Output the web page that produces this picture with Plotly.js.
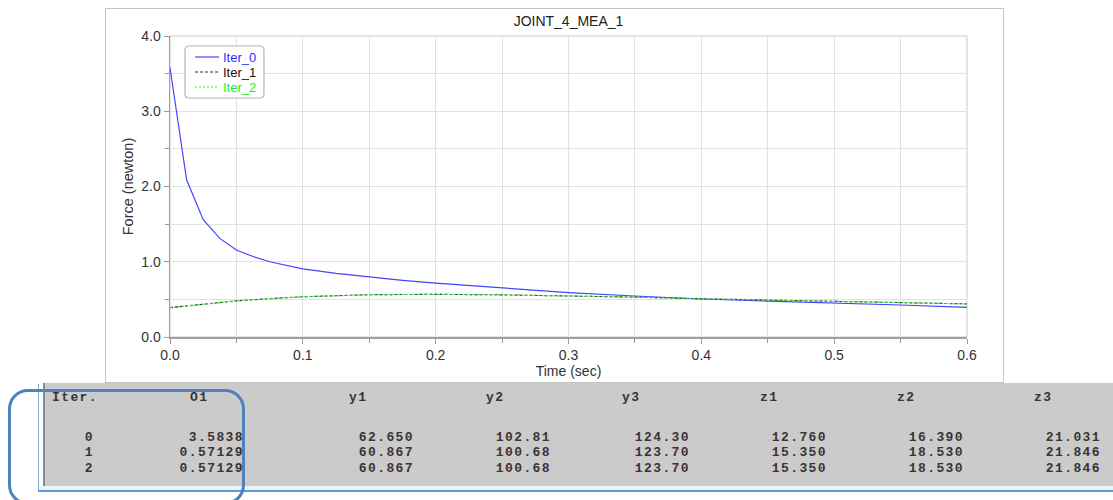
<!DOCTYPE html>
<html>
<head>
<meta charset="utf-8">
<script src="https://cdn.plot.ly/plotly-3.0.1.min.js"></script>
<style>
  html, body { margin: 0; padding: 0; background: #ffffff; width: 1113px; height: 500px; overflow: hidden; }
  #chart { position: absolute; left: 105px; top: 8px; width: 899px; height: 375px; box-sizing: border-box; border: 1px solid #c4c4c4; }
  #panel { position: absolute; left: 43px; top: 383px; width: 1070px; height: 103px; background: #cbcbcb; border-left: 2px solid #8a8a8a; box-sizing: border-box; }
  #panelEdge { position: absolute; left: 38px; top: 384px; width: 1075px; height: 108px; border-left: 1px solid #7fb0e0; border-bottom: 2px solid #5b9bd5; box-sizing: border-box; }
  #panelStrip { position: absolute; left: 39px; top: 486px; width: 1074px; height: 4px; background: #eef3fa; }
  .cell { position: absolute; font-family: "Liberation Mono", "DejaVu Sans Mono", monospace; font-weight: bold; font-size: 13px; letter-spacing: 1.4px; color: #3a3434; white-space: pre; line-height: 15px; }
  #hilite { position: absolute; left: 8px; top: 389px; width: 237px; height: 116px; border: 3px solid #4f81bd; border-radius: 20px; box-sizing: border-box; }
</style>
</head>
<body>
<div id="chart"></div>
<div id="panelEdge"></div>
<div id="panel"></div>
<div id="panelStrip"></div>
<div id="table"></div>
<div id="hilite"></div>
<script>
// ---- chart data ----
var time0 = [0, 0.0125, 0.025, 0.0375, 0.05, 0.0625, 0.075, 0.0875, 0.1, 0.125, 0.15, 0.175, 0.2, 0.25, 0.3, 0.35, 0.4, 0.45, 0.5, 0.55, 0.6];
var iter0 = [3.58, 2.09, 1.56, 1.31, 1.155, 1.07, 1.0, 0.95, 0.905, 0.845, 0.795, 0.752, 0.715, 0.648, 0.59, 0.545, 0.505, 0.478, 0.455, 0.425, 0.395];
var time12 = [0, 0.025, 0.05, 0.075, 0.1, 0.15, 0.2, 0.25, 0.3, 0.35, 0.4, 0.45, 0.5, 0.55, 0.6];
var iter1 = [0.39, 0.44, 0.48, 0.51, 0.535, 0.562, 0.567, 0.56, 0.548, 0.53, 0.508, 0.49, 0.474, 0.457, 0.44];
var iter2 = [0.39, 0.44, 0.48, 0.51, 0.535, 0.562, 0.567, 0.56, 0.548, 0.53, 0.508, 0.49, 0.474, 0.457, 0.44];
var seriesNames = ["Iter_0", "Iter_1", "Iter_2"];
var chartTitle = "JOINT_4_MEA_1";
var xTitle = "Time (sec)";
var yTitle = "Force (newton)";

// ---- table data ----
var tableHeaders = ["Iter.", "O1", "y1", "y2", "y3", "z1", "z2", "z3"];
var iterIds = ["0", "1", "2"];
var colO1 = ["3.5838", "0.57129", "0.57129"];
var colY1 = ["62.650", "60.867", "60.867"];
var colY2 = ["102.81", "100.68", "100.68"];
var colY3 = ["124.30", "123.70", "123.70"];
var colZ1 = ["12.760", "15.350", "15.350"];
var colZ2 = ["16.390", "18.530", "18.530"];
var colZ3 = ["21.031", "21.846", "21.846"];

var lineColors = ["#4444ff", "#333333", "#33ee33"];
var textColors = ["#3030ff", "#111111", "#22ee22"];
var dashes = ["solid", "3px,2px", "2px,2px"];
var widths = [1.2, 1.1, 1.2];
var xs = [time0, time12, time12];
var ys = [iter0, iter1, iter2];
var traces = seriesNames.map(function (n, i) {
  return { x: xs[i], y: ys[i], type: "scatter", mode: "lines", name: n, showlegend: false,
           line: { color: lineColors[i], width: widths[i], dash: dashes[i] } };
});

// plot area in page pixels: x 170..967, y 36..337
function px(x) { return (x - 170) / 797; }
function py(y) { return (337 - y) / 301; }

// custom compact legend (box, samples, labels)
var shapes = [
  { type: "rect", xref: "paper", yref: "paper", x0: 0, x1: 1, y0: 0, y1: 1, line: { color: "#c8c8c8", width: 1 }, layer: "below" }
];
(function () {
  var L = 185, R = 264, T = 46, B = 98, r = 4;
  var path = "M " + px(L + r) + " " + py(T) +
    " L " + px(R - r) + " " + py(T) + " Q " + px(R) + " " + py(T) + " " + px(R) + " " + py(T + r) +
    " L " + px(R) + " " + py(B - r) + " Q " + px(R) + " " + py(B) + " " + px(R - r) + " " + py(B) +
    " L " + px(L + r) + " " + py(B) + " Q " + px(L) + " " + py(B) + " " + px(L) + " " + py(B - r) +
    " L " + px(L) + " " + py(T + r) + " Q " + px(L) + " " + py(T) + " " + px(L + r) + " " + py(T) + " Z";
  shapes.push({ type: "path", xref: "paper", yref: "paper", path: path, fillcolor: "#ffffff", line: { color: "#b4b4b4", width: 1.2 }, layer: "above" });
})();
var annotations = [];
var rowY = [57, 72, 87];
seriesNames.forEach(function (n, i) {
  shapes.push({ type: "line", xref: "paper", yref: "paper", x0: px(195), x1: px(219), y0: py(rowY[i]), y1: py(rowY[i]),
                line: { color: lineColors[i], width: widths[i], dash: dashes[i] }, layer: "above" });
  annotations.push({ xref: "paper", yref: "paper", x: px(221), y: py(rowY[i]), xanchor: "left", yanchor: "middle",
                     text: n, showarrow: false, font: { family: "Liberation Sans, Arial, sans-serif", size: 13, color: textColors[i] } });
});

var axisFont = { family: "Liberation Sans, Arial, sans-serif", size: 14, color: "#333333" };
var layout = {
  width: 897, height: 373,
  margin: { l: 64, r: 36, t: 27, b: 45 },
  paper_bgcolor: "#ffffff", plot_bgcolor: "#ffffff",
  showlegend: false,
  title: { text: chartTitle, font: { family: "Liberation Sans, Arial, sans-serif", size: 14, color: "#222222" }, x: 0.5, xref: "paper", xanchor: "center", y: 1 - 12 / 373, yref: "container", yanchor: "middle" },
  xaxis: {
    range: [0, 0.6], dtick: 0.1, tick0: 0, tickformat: ".1f",
    showgrid: true, gridcolor: "#e2e2e2", gridwidth: 1,
    minor: { dtick: 0.05, showgrid: true, gridcolor: "#e2e2e2", ticks: "outside", ticklen: 4, tickcolor: "#999999" },
    ticks: "outside", ticklen: 5, tickcolor: "#999999",
    showline: true, linecolor: "#a0a0a0", linewidth: 1.5, zeroline: false,
    tickfont: axisFont,
    title: { text: xTitle, font: axisFont, standoff: 3 }
  },
  yaxis: {
    range: [0, 4], dtick: 1, tick0: 0, tickformat: ".1f",
    showgrid: true, gridcolor: "#e2e2e2", gridwidth: 1,
    minor: { dtick: 0.5, showgrid: true, gridcolor: "#e2e2e2", ticks: "outside", ticklen: 4, tickcolor: "#999999" },
    ticks: "outside", ticklen: 5, tickcolor: "#999999",
    showline: true, linecolor: "#a0a0a0", linewidth: 1.5, zeroline: false,
    tickfont: axisFont,
    title: { text: yTitle, font: { family: "Liberation Sans, Arial, sans-serif", size: 14.5, color: "#333333" }, standoff: 4 }
  },
  shapes: shapes,
  annotations: annotations
};

Plotly.newPlot("chart", traces, layout, { displayModeBar: false, staticPlot: true });

// ---- build the text table ----
var tbl = document.getElementById("table");
var colRight = [243, 413, 550, 689, 826, 963, 1100];
var rowTop = [430, 445, 461];
function addCell(txt, left, top, right) {
  var d = document.createElement("div");
  d.className = "cell";
  d.textContent = txt;
  d.style.top = top + "px";
  if (right !== undefined) { d.style.right = (1113 - right - 1) + "px"; d.style.textAlign = "right"; }
  else d.style.left = left + "px";
  tbl.appendChild(d);
}
var headerLeft = [52, 190, 349, 486, 622, 760, 897, 1034];
tableHeaders.forEach(function (h, i) { addCell(h, headerLeft[i], 390); });
var cols = [colO1, colY1, colY2, colY3, colZ1, colZ2, colZ3];
iterIds.forEach(function (id, r) {
  addCell(id, 0, rowTop[r], 93);
  cols.forEach(function (c, j) { addCell(c[r], 0, rowTop[r], colRight[j]); });
});
</script>
</body>
</html>
